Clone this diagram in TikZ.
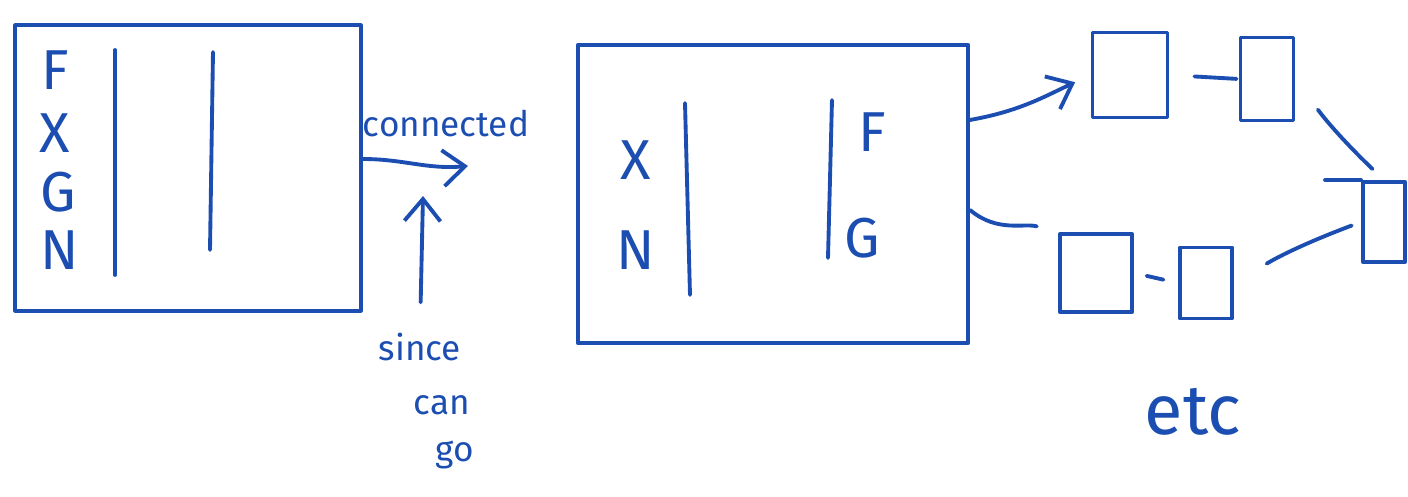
\documentclass[tikz,border=0pt]{standalone}
\usepackage{fontspec}
\setmainfont{Fira Sans}
\usepackage{tikz}
\usetikzlibrary{positioning,arrows.meta}
\definecolor{penblue}{RGB}{28, 78, 178}

\begin{document}
\begin{tikzpicture}[x=0.01cm, y=-0.01cm, >={Straight Barb[length=2.2mm,width=3.6mm]},
  pen/.style={draw=penblue, line width=1.1pt, line cap=round, line join=round},
  box/.style={pen, rectangle, inner sep=0pt},
  letter/.style={text=penblue, inner sep=0pt, font=\fontsize{16}{18}\selectfont},
  note/.style={text=penblue, inner sep=0pt, font=\fontsize{10}{12}\selectfont}]
\useasboundingbox (0,0) rectangle (1408,497);

% first block
\node[box, minimum width=3.45cm, minimum height=2.85cm] (lbox) at (188,168) {};
\node[letter] (lf) at (55,70) {F};
\node[letter] (lx) at (55,133) {X};
\node[letter] (lg) at (58,192) {G};
\node[letter] (ln) at (60,250) {N};
\draw[pen] (115,50) -- (115,275);
\draw[pen] (213,52) -- (210,250);

% connected / since can go
\coordinate (conn) at (468,166);
\node[note] (connected) at (446,124) {connected};
\draw[pen, ->] ([yshift=0.09cm]lbox.east) to[out=0, in=185] (conn);
\node[note] (since) at (420,347) {since};
\node[note] (can) at (442,405) {can};
\node[note] (go) at (455,455) {go};
\coordinate (up) at (423,196);
\draw[pen, ->, shorten <=0.3cm] (since.north) -- (up);

% second block
\node[box, minimum width=3.9cm, minimum height=2.98cm] (mbox) at (773,194) {};
\node[letter] (mx) at (636,160) {X};
\node[letter] (mn) at (636,250) {N};
\node[letter] (mf) at (872,132) {F};
\node[letter] (mg) at (862,238) {G};
\draw[pen] (685,103) -- (690,295);
\draw[pen] (832,100) -- (828,258);

% chain of small blocks
\node[box, minimum width=0.75cm, minimum height=0.85cm] (a) at (1130,75) {};
\node[box, minimum width=0.53cm, minimum height=0.83cm] (b) at (1267,79) {};
\node[box, minimum width=0.72cm, minimum height=0.78cm] (c) at (1096,273) {};
\node[box, minimum width=0.52cm, minimum height=0.71cm] (d) at (1206,283) {};
\node[box, minimum width=0.42cm, minimum height=0.80cm] (e) at (1384,222) {};
\draw[pen] (e.north west) -- ++(-36,0);

\draw[pen, ->, shorten >=0.17cm] ([yshift=0.74cm]mbox.east) to[out=10, in=205] (a.west);
\draw[pen, shorten >=0.22cm] ([yshift=-0.16cm]mbox.east) to[out=-40, in=165] (c.north west);
\draw[pen, shorten <=0.25cm, shorten >=0.02cm] (a.east) -- (b.west);
\draw[pen, shorten <=0.38cm, shorten >=0.16cm] (b.east) to[bend right=5] (e.north);
\draw[pen, shorten <=0.13cm, shorten >=0.15cm] (c.east) -- (d.west);
\draw[pen, shorten <=0.38cm, shorten >=0.1cm] (d.east) to[bend left=5] (e.west);

\node[text=penblue, font=\fontsize{20}{22}\selectfont] (etc) at (1193,412) {etc};
\end{tikzpicture}
\end{document}
